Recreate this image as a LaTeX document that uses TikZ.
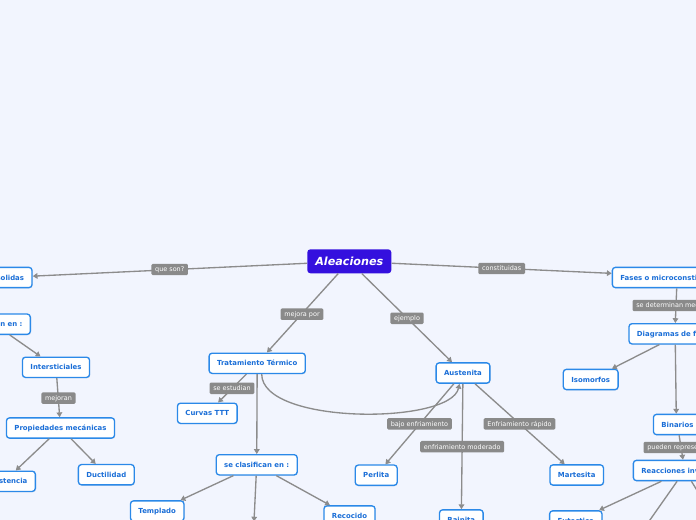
\documentclass[tikz,border=0pt]{standalone}
\usepackage{fontspec}
\setmainfont{DejaVu Sans}
\usetikzlibrary{arrows.meta,calc,shadows}
\definecolor{bgc}{RGB}{242,245,254}
\definecolor{nodeb}{RGB}{43,137,232}
\definecolor{nodet}{RGB}{26,110,215}
\definecolor{lineg}{RGB}{140,140,140}
\definecolor{labg}{RGB}{138,138,138}
\definecolor{mainc}{RGB}{52,16,222}
\tikzset{
 box/.style={draw=nodeb, line width=1pt, fill=white, rounded corners=2.3pt,
   font=\fontsize{5.2}{6}\selectfont\bfseries, text=nodet, minimum height=15.2pt,
   inner xsep=6pt, inner ysep=0pt, text height=3.8pt, text depth=0pt,
   drop shadow={shadow xshift=0.5pt, shadow yshift=-0.6pt, opacity=0.18}},
 mainbox/.style={fill=mainc, rounded corners=2.3pt, text=white,
   font=\fontsize{8.4}{10}\selectfont\bfseries\itshape, minimum width=63pt,
   minimum height=18pt, inner sep=0pt, text height=6.1pt, text depth=0pt},
 lab/.style={fill=labg, rounded corners=1pt, text=white, font=\fontsize{4.85}{5.5}\selectfont,
   minimum height=8.6pt, inner xsep=2.8pt, inner ysep=0pt, text height=3.55pt, text depth=0pt},
 conn/.style={draw=lineg, line width=1pt, -{Triangle[length=3.6pt,width=4.2pt]}},
 plain/.style={draw=lineg, line width=1pt},
}
\begin{document}
\begin{tikzpicture}[x=0.75pt,y=-0.75pt]
\useasboundingbox (0,0) rectangle (696,520);
\clip (0,0) rectangle (696,520);
\fill[bgc] (0,0) rectangle (696,520);

% nodes
\node[mainbox] (alea) at (349.3,261.3) {Aleaciones};
\node[box, anchor=east, text width=30pt, align=right] (sol) at (32.7,277.5) {solidas};
\node[box, anchor=east, text width=42pt, align=right] (nen) at (31,324.2) {n en :};
\node[box] (inter) at (56,367.3) {Intersticiales};
\node[box] (prop) at (60.5,428) {Propiedades mecánicas};
\node[box, anchor=east, text width=34.5pt, align=right] (resis) at (36,481.3) {stencia};
\node[box] (duct) at (106.3,474.7) {Ductilidad};
\node[box] (trat) at (257.2,363.3) {Tratamiento Térmico};
\node[box] (curvas) at (207.3,413.3) {Curvas TTT};
\node[box] (clasif) at (256.7,464.8) {se clasifican en :};
\node[box] (templ) at (157.2,511) {Templado};
\node[box] (recoc) at (349.5,516) {Recocido};
\coordinate (cbot) at (254,521.5);
\node[box] (aust) at (463,373) {Austenita};
\node[box] (perl) at (376.2,475.2) {Perlita};
\node[box] (mart) at (576.7,475) {Martesita};
\node[box] (bain) at (461.3,520) {Bainita};
\node[box, anchor=west, text width=121.5pt, align=left] (fases) at (611.7,277.5) {Fases o microconsti};
\node[box, anchor=west, text width=65.5pt, align=left] (diag) at (628.3,333.8) {Diagramas de f};
\node[box] (iso) at (590.7,379.5) {Isomorfos};
\node[box] (bin) at (677.4,424.5) {Binarios};
\node[box, anchor=west, text width=65pt, align=left] (reac) at (632.7,470.5) {Reacciones inv};
\node[box] (eut) at (575.8,521) {Eutectico};
\coordinate (rb1) at (645,527);
\coordinate (rb2) at (703,500);

% connectors
\draw[conn] (alea) -- (sol);
\draw[conn] (alea) -- (fases);
\draw[conn] (alea) -- (trat);
\draw[conn] (alea) -- (aust);
\draw[conn] (nen) -- (inter);
\draw[conn] (inter) -- (prop);
\draw[conn] (prop) -- (resis);
\draw[conn] (prop) -- (duct);
\draw[conn] (trat) -- (curvas);
\draw[conn] (trat) -- (clasif);
\draw[conn] ($(trat.south)+(4.5,0)$) .. controls +(0,51) and +(-9,41) .. ($(aust.south)+(-3.5,0)$);
\draw[conn] (clasif) -- (templ);
\draw[conn] (clasif) -- (cbot);
\draw[conn] (clasif) -- (recoc);
\draw[conn] (aust) -- (perl);
\draw[conn] (aust) -- (bain);
\draw[conn] (aust) -- (mart);
\draw[conn] ($(fases.south west)+(65,0)$) -- ($(diag.north west)+(47,0)$);
\draw[conn] (diag) -- (iso);
\draw[conn] ($(diag.south west)+(47,0)$) -- ($(bin.north west)+(23.5,0)$);
\draw[conn] (bin) -- (reac);
\draw[conn] (reac) -- (eut);
\draw[plain] (reac) -- (rb1);
\draw[plain] (reac) -- (rb2);

% labels
\node[lab] (l1) at (169.7,269.5) {que son?};
\node[lab] (l2) at (302,314.2) {mejora por};
\node[lab] (l3) at (407,318.3) {ejemplo};
\node[lab] (l4) at (501.7,268.5) {constituidas};
\node[lab] (l5) at (232,388.3) {se estudian};
\node[lab] (l6) at (58.5,398.2) {mejoran};
\node[lab] (l7) at (419.5,423.8) {bajo enfriamiento};
\node[lab] (l8) at (519.5,423.8) {Enfriamiento rápido};
\node[lab] (l9) at (462.2,446.7) {enfriamiento moderado};
\node[lab, anchor=west] (l10) at (632.3,305.5) {se determinan med};
\node[lab, anchor=west] (l11) at (643.3,447.5) {pueden represe};
\end{tikzpicture}
\end{document}
